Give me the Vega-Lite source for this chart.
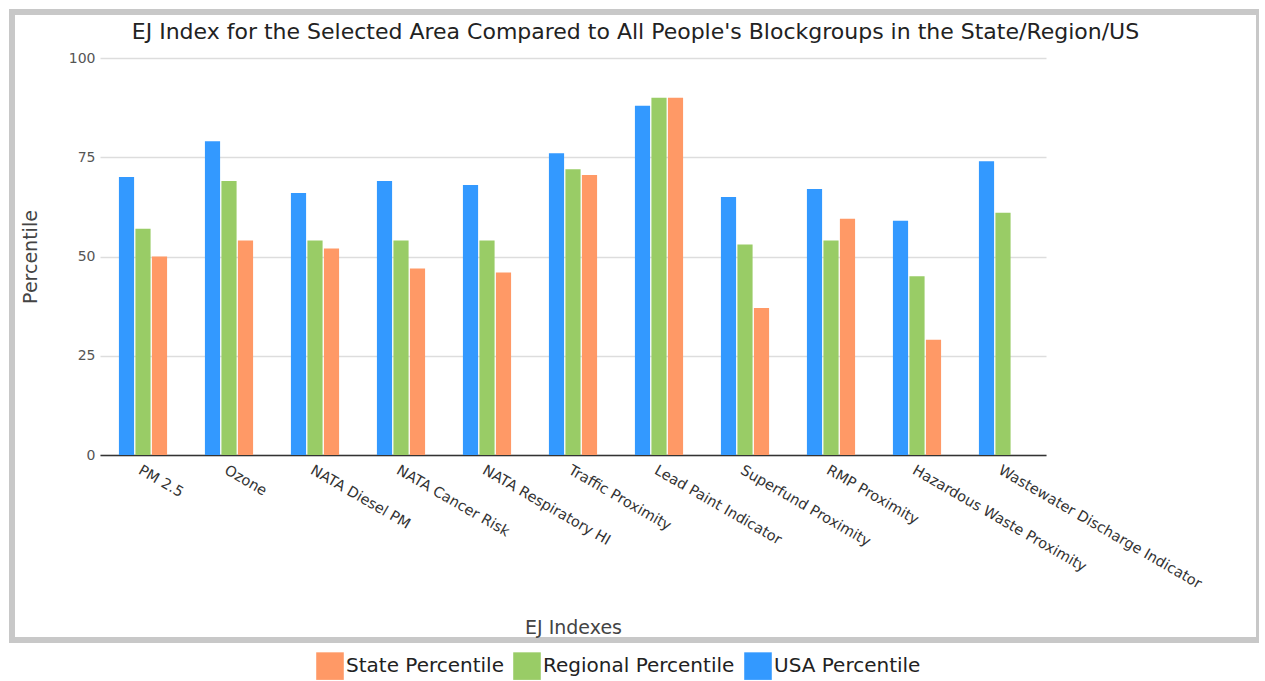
{
  "$schema": "https://vega.github.io/schema/vega-lite/v6.json",
  "width": 1247,
  "height": 628,
  "padding": {"left": 12, "top": 12, "right": 0, "bottom": 0},
  "background": "white",
  "title": {
    "text": "EJ Index for the Selected Area Compared to All People's Blockgroups in the State/Region/US",
    "anchor": "middle",
    "offset": -42,
    "baseline": "middle",
    "font": "DejaVu Sans",
    "fontSize": 22,
    "fontWeight": "normal",
    "color": "#222222"
  },
  "data": {
    "values": [
      {"index": "PM 2.5", "series": "USA Percentile", "value": 70},
      {"index": "PM 2.5", "series": "Regional Percentile", "value": 57},
      {"index": "PM 2.5", "series": "State Percentile", "value": 50},
      {"index": "Ozone", "series": "USA Percentile", "value": 79},
      {"index": "Ozone", "series": "Regional Percentile", "value": 69},
      {"index": "Ozone", "series": "State Percentile", "value": 54},
      {"index": "NATA Diesel PM", "series": "USA Percentile", "value": 66},
      {"index": "NATA Diesel PM", "series": "Regional Percentile", "value": 54},
      {"index": "NATA Diesel PM", "series": "State Percentile", "value": 52},
      {"index": "NATA Cancer Risk", "series": "USA Percentile", "value": 69},
      {"index": "NATA Cancer Risk", "series": "Regional Percentile", "value": 54},
      {"index": "NATA Cancer Risk", "series": "State Percentile", "value": 47},
      {"index": "NATA Respiratory HI", "series": "USA Percentile", "value": 68},
      {"index": "NATA Respiratory HI", "series": "Regional Percentile", "value": 54},
      {"index": "NATA Respiratory HI", "series": "State Percentile", "value": 46},
      {"index": "Traffic Proximity", "series": "USA Percentile", "value": 76},
      {"index": "Traffic Proximity", "series": "Regional Percentile", "value": 72},
      {"index": "Traffic Proximity", "series": "State Percentile", "value": 70.5},
      {"index": "Lead Paint Indicator", "series": "USA Percentile", "value": 88},
      {"index": "Lead Paint Indicator", "series": "Regional Percentile", "value": 90},
      {"index": "Lead Paint Indicator", "series": "State Percentile", "value": 90},
      {"index": "Superfund Proximity", "series": "USA Percentile", "value": 65},
      {"index": "Superfund Proximity", "series": "Regional Percentile", "value": 53},
      {"index": "Superfund Proximity", "series": "State Percentile", "value": 37},
      {"index": "RMP Proximity", "series": "USA Percentile", "value": 67},
      {"index": "RMP Proximity", "series": "Regional Percentile", "value": 54},
      {"index": "RMP Proximity", "series": "State Percentile", "value": 59.5},
      {"index": "Hazardous Waste Proximity", "series": "USA Percentile", "value": 59},
      {"index": "Hazardous Waste Proximity", "series": "Regional Percentile", "value": 45},
      {"index": "Hazardous Waste Proximity", "series": "State Percentile", "value": 29},
      {"index": "Wastewater Discharge Indicator", "series": "USA Percentile", "value": 74},
      {"index": "Wastewater Discharge Indicator", "series": "Regional Percentile", "value": 61}
    ]
  },
  "mark": {"type": "bar"},
  "encoding": {
    "x": {
      "field": "index",
      "type": "nominal",
      "sort": null,
      "scale": {"range": [88, 1034], "paddingInner": 0.44, "paddingOuter": 0.22},
      "axis": {
        "title": "EJ Indexes",
        "offset": -185,
        "labelAngle": 30,
        "labelAlign": "left",
        "labelBaseline": "top",
        "labelPadding": 8,
        "labelFont": "DejaVu Sans",
        "labelFontSize": 14.5,
        "labelColor": "#333333",
        "labelOverlap": false,
        "labelLimit": 400,
        "ticks": false,
        "domainColor": "#333333",
        "domainWidth": 1.5,
        "titleFont": "DejaVu Sans",
        "titleFontSize": 19,
        "titleFontWeight": "normal",
        "titleColor": "#444444",
        "titleY": 172,
        "titleBaseline": "middle"
      }
    },
    "xOffset": {
      "field": "series",
      "type": "nominal",
      "sort": ["USA Percentile", "Regional Percentile", "State Percentile"],
      "scale": {"paddingInner": 0.08}
    },
    "y": {
      "field": "value",
      "type": "quantitative",
      "scale": {"domain": [0, 100], "range": [443, 46]},
      "axis": {
        "title": "Percentile",
        "offset": -88,
        "values": [0, 25, 50, 75, 100],
        "ticks": false,
        "domain": false,
        "labelPadding": 5,
        "labelFont": "DejaVu Sans",
        "labelFontSize": 14,
        "labelColor": "#555555",
        "gridColor": "#dddddd",
        "gridWidth": 1.5,
        "titleFont": "DejaVu Sans",
        "titleFontSize": 19,
        "titleFontWeight": "normal",
        "titleColor": "#444444",
        "titlePadding": 28
      }
    },
    "color": {
      "field": "series",
      "type": "nominal",
      "scale": {
        "domain": ["State Percentile", "Regional Percentile", "USA Percentile"],
        "range": ["#FF9966", "#99CC66", "#3399FF"]
      },
      "legend": {
        "title": null,
        "orient": "none",
        "legendX": 304,
        "legendY": 640,
        "direction": "horizontal",
        "padding": 0,
        "symbolType": "square",
        "symbolSize": 760,
        "symbolStrokeWidth": 0,
        "symbolOpacity": 1,
        "labelFont": "DejaVu Sans",
        "labelFontSize": 20,
        "labelColor": "#222222",
        "labelOffset": 2,
        "columnPadding": 9,
        "labelLimit": 300
      }
    }
  },
  "config": {
    "view": {"stroke": "#c8c8c8", "strokeWidth": 6}
  }
}
